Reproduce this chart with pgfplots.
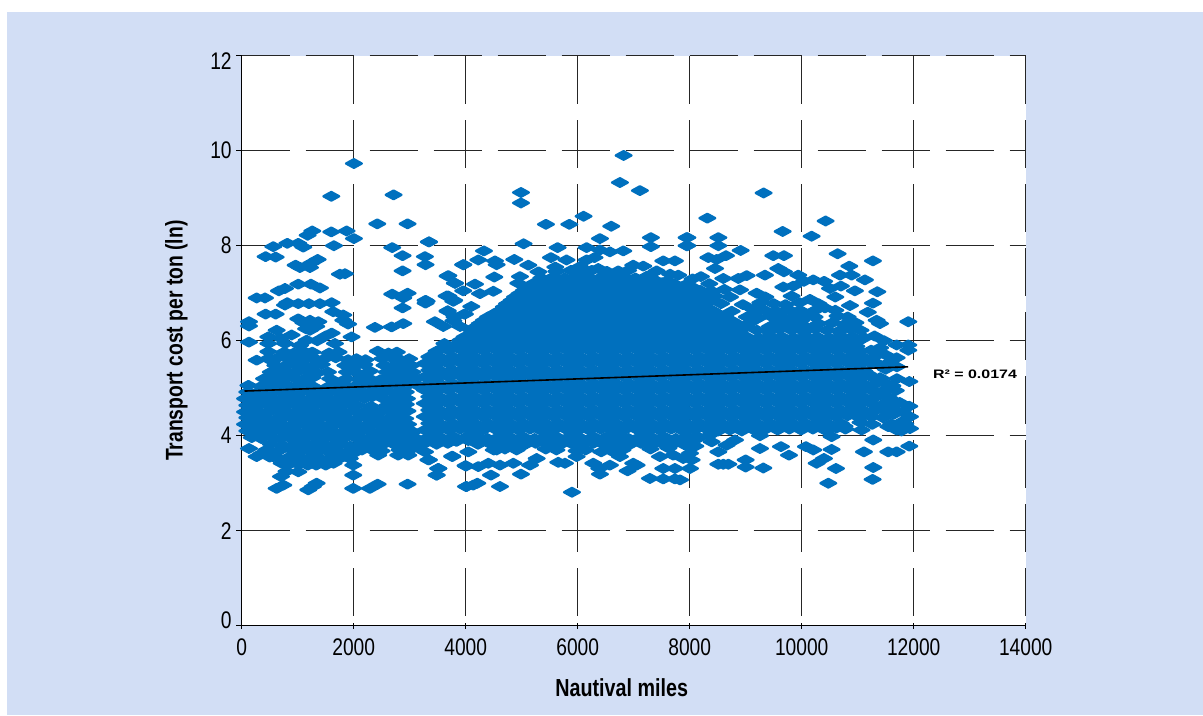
\documentclass[border=0pt]{standalone}
\usepackage{pgfplots}
\pgfplotsset{compat=1.18}
\usepackage{fontspec}
\setmainfont[FakeStretch=0.8]{Liberation Sans}
\newfontfamily\widefont[FakeStretch=1.3]{Liberation Sans}
\definecolor{panel}{HTML}{D2DEF5}
\definecolor{dotblue}{HTML}{0070BE}
\begin{document}
\begin{tikzpicture}[x=0.75pt,y=0.75pt]
\fill[white] (-241.7,-89.3) rectangle (961.3,625.7);
\fill[panel] (-234.7,-89.3) rectangle (961.3,613.7);
\begin{axis}[
  at={(0,0)},anchor=south west,scale only axis,
  width=588pt,height=427.5pt,
  xmin=0,xmax=14000,ymin=0,ymax=12,
  clip mode=individual,
  xtick={0,2000,...,14000},ytick={0,2,...,12},
  yticklabels={\raisebox{3.75pt}[\height][\depth]{0},2,4,6,8,10,\raisebox{-3.75pt}[\height][\depth]{12}},
  axis x line*=bottom,axis y line*=left,
  axis line style={-,black,line width=0.8pt},
  axis background/.style={fill=white},
  xmajorgrids,ymajorgrids,
  x grid style={draw=black!85,line width=0.8pt,dash pattern=on 36pt off 12pt,dash phase=40.5pt},
  y grid style={draw=black!85,line width=0.9pt,dash pattern=on 36pt off 12pt},
  tick style={black,line width=0.8pt},
  major tick length=4pt,
  tick align=outside,
  x tick style={yshift=1.8pt},
  scaled x ticks=false,
  /pgf/number format/assume math mode=true,
  /pgf/number format/1000 sep={},
  tick label style={font=\fontsize{18}{18}\selectfont},
  xticklabel style={yshift=-2pt},
  yticklabel style={xshift=0pt},
  xlabel={\fontsize{18.5}{18}\selectfont\bfseries Nautival miles},
  ylabel={\fontsize{18.1}{18}\selectfont\bfseries Transport cost per ton (ln)},
  xlabel style={at={(axis description cs:0.5,0)},anchor=center,yshift=-46.5pt,xshift=-9pt},
  ylabel style={at={(axis description cs:0,0.5)},anchor=center,yshift=49pt,xshift=0pt},
]
\addplot[only marks,mark=diamond*,mark size=3.2pt,
  mark options={xscale=2.44,fill=dotblue,draw=dotblue,line width=1.8pt,line join=round}]
coordinates {
(2004,9.73)(1600,9.04)(2712,9.07)(2421,8.46)(2962,8.46)(1260,8.31)(1177,8.22)(1600,8.29)(1873,8.31)(2004,8.15)
(1647,8.00)(3343,8.08)(2688,7.96)(564,7.98)(814,8.05)(1010,8.05)(1100,7.97)(427,7.77)(606,7.76)(2873,7.79)
(3272,7.77)(3283,7.60)(963,7.59)(1356,7.71)(1237,7.63)(1219,7.54)(1040,7.54)(3956,7.60)(2873,7.47)(1754,7.40)
(1844,7.41)(3676,7.36)(3807,7.21)(1010,7.19)(1237,7.19)(1397,7.11)(773,7.10)(665,7.05)(267,6.90)(416,6.90)
(2688,6.98)(2962,7.00)(2885,6.90)(3283,6.85)(3283,6.79)(3658,6.94)(3795,6.85)(3956,7.05)(814,6.80)(773,6.75)
(1010,6.78)(1200,6.78)(1397,6.78)(1606,6.80)(1635,6.61)(1814,6.54)(1814,6.43)(2873,6.69)(3676,6.62)(3986,6.56)
(427,6.56)(606,6.56)(130,6.40)(130,6.31)(1010,6.46)(1219,6.43)(1368,6.40)(1200,6.31)(624,6.22)(2379,6.28)
(2677,6.29)(2885,6.36)(3450,6.40)(1100,6.38)(1150,6.25)(1330,6.30)(1900,6.35)(3600,6.30)(3780,6.42)(3900,6.30)
(130,5.97)(891,6.12)(1219,6.22)(1606,6.16)(1962,6.08)(1500,6.10)(475,6.08)(475,5.94)(773,5.94)(1159,6.01)
(1665,5.94)(475,5.77)(267,5.59)(624,5.63)(1040,5.90)(1350,6.00)(700,6.05)
% upper outliers of the main mass
(6820,9.90)(6754,9.33)(7111,9.16)(4987,9.12)(4987,8.90)(6105,8.62)(5433,8.45)(5850,8.45)(6599,8.41)(6397,8.15)
(7307,8.17)(7307,7.98)(7944,8.17)(7944,8.00)(3345,8.08)(5034,8.04)(5641,7.96)(4326,7.89)(4225,7.70)(4523,7.68)
(4553,7.60)(4868,7.71)(5522,7.75)(5118,7.59)(6159,7.96)(6397,7.91)(6575,7.87)(6814,7.89)(3958,7.60)(7528,7.68)
(7736,7.68)(4511,7.34)(3690,7.37)(3809,7.21)(4166,7.19)(4939,7.21)(4969,7.35)(6367,7.52)(6159,7.70)(6040,7.56)
(6992,7.59)(7171,7.57)(6724,7.47)(7409,7.47)(7795,7.38)(4493,7.04)(3690,6.94)(3779,6.83)(3303,6.83)(4255,6.99)
(3678,6.63)(3975,6.56)(3800,6.50)(4100,6.72)(5300,7.45)(5600,7.55)(5800,7.70)(6300,7.75)(7650,7.40)
(9320,9.11)(8315,8.58)(10427,8.52)(9660,8.30)(10177,8.20)(7958,8.17)(8511,8.17)(7958,8.00)(8511,8.00)(8910,7.90)
(10641,7.83)(8648,7.79)(8333,7.75)(8481,7.71)(9493,7.79)(9683,7.79)(11272,7.68)(10850,7.57)(8452,7.52)(9582,7.52)
(9683,7.45)(9017,7.37)(9344,7.38)(8868,7.31)(8600,7.31)(9939,7.38)(10683,7.38)(10891,7.38)(11129,7.28)(11350,7.03)
(11272,6.79)(11903,6.40)(11338,6.43)(11398,6.36)(10862,6.74)(10415,6.69)(10148,6.87)(9672,7.13)(10207,7.28)(10505,7.10)
(8898,7.07)(9196,7.00)(8200,7.35)(8050,7.30)(10400,7.25)(10040,7.25)(9850,7.15)(10700,7.15)(10950,7.05)(11180,6.60)
% right edge
(11695,5.91)(11903,5.91)(11903,5.80)(11695,5.64)(11921,5.14)(11921,4.62)(11933,4.40)(11933,4.15)(11546,4.19)(11695,4.12)
(11921,3.78)(11695,3.66)(11546,3.66)(11278,3.91)(11111,3.66)(11278,3.33)(11266,3.08)(10475,3.00)(10612,3.31)(10397,3.52)
(10267,3.42)(10534,3.71)(10076,3.77)(10207,3.70)(9773,3.59)(9630,3.77)(9255,3.73)(9315,3.32)(8999,3.49)(8999,3.34)
(8600,3.40)(8511,3.40)(8690,3.40)(8511,3.66)(8660,3.80)(8392,3.87)(8809,3.91)(8005,3.31)(8035,3.49)(8005,3.63)
(7827,3.07)(10534,3.98)(11070,4.12)(9255,4.00)(11700,5.20)(11680,4.95)(11750,4.70)(11640,4.45)(11800,4.30)(11500,5.40)
(11560,4.80)(11740,4.25)(11350,5.70)(11500,5.70)(11500,5.10)(11620,5.05)(11700,5.45)(11600,4.60)(11800,4.50)(11850,4.25)
(11600,4.25)(11480,4.60)(11780,4.10)(11580,5.55)(11400,5.85)(11470,6.00)(11300,6.10)(11380,5.50)
% lower outliers
(3761,3.56)(3511,3.31)(3481,3.17)(3333,3.49)(4005,3.36)(4005,2.93)(4207,3.00)(4612,2.93)(4451,3.17)(4987,3.19)
(5897,2.81)(5772,3.42)(5653,3.44)(6397,3.19)(6891,3.26)(6385,3.31)(6575,3.38)(7052,3.38)(7290,3.10)(7528,3.09)
(7736,3.09)(7528,3.31)(7736,3.31)(7885,3.52)(5148,3.38)(4850,3.42)(4612,3.38)(4404,3.42)(4225,3.35)(4047,3.66)
(4553,3.70)(4909,3.70)(5267,3.52)(5981,3.56)(6278,3.42)(6754,3.56)(6992,3.42)(7468,3.56)(7706,3.59)(3273,3.66)
(3343,3.49)(3997,3.37)(4015,2.93)(4134,2.96)(3759,3.57)(3510,3.31)(3480,3.17)(2974,3.59)(2795,3.59)(2438,3.59)
(2962,2.98)(2427,2.98)(2290,2.89)(1992,2.89)(1992,3.17)(1992,3.38)(1189,2.86)(1338,3.00)(1270,2.93)(1010,3.24)
(743,2.96)(624,2.89)(701,3.14)(713,3.42)(800,3.25)(267,3.56)(130,3.73)(350,3.62)(500,3.55)(620,3.55)
% left mass, rows low to high
(760,3.42)(880,3.42)(1010,3.40)(1180,3.38)(1330,3.38)(1500,3.38)(1640,3.42)
(560,3.56)(830,3.54)(950,3.56)(1120,3.50)(1260,3.54)(1420,3.50)(1590,3.54)(1750,3.52)(1930,3.52)
(440,3.70)(660,3.68)(900,3.70)(1030,3.66)(1200,3.68)(1370,3.66)(1530,3.68)(1700,3.66)(1860,3.64)(2010,3.64)(2150,3.70)(2300,3.72)(2500,3.68)(2820,3.70)(3000,3.70)
(520,3.82)(730,3.80)(980,3.84)(1120,3.80)(1290,3.82)(1450,3.80)(1620,3.80)(1780,3.82)(1940,3.78)(2100,3.80)(2250,3.84)(2400,3.80)(2560,3.84)(2720,3.82)(2880,3.80)(3040,3.82)(3160,3.80)
(180,3.96)(350,3.94)(560,3.96)(690,3.94)(850,3.96)(1020,3.94)(1180,3.98)(1350,3.94)(1510,3.96)(1680,3.94)(1850,3.96)(2030,3.96)(2170,3.92)(2330,3.96)(2480,3.94)(2650,3.96)(2810,3.94)(2970,3.96)(3120,3.94)
(100,4.10)(260,4.08)(440,4.08)(610,4.12)(770,4.08)(940,4.10)(1100,4.06)(1270,4.10)(1430,4.08)(1600,4.10)(1770,4.06)(1930,4.10)(2110,4.08)(2270,4.10)(2420,4.06)(2570,4.10)(2730,4.08)(2890,4.10)(3060,4.08)
(60,4.24)(180,4.22)(350,4.24)(520,4.22)(680,4.24)(850,4.20)(1020,4.24)(1190,4.22)(1350,4.24)(1520,4.20)(1680,4.24)(1850,4.22)(2020,4.24)(2190,4.20)(2350,4.24)(2510,4.22)(2660,4.24)(2820,4.22)(2970,4.24)
(100,4.38)(260,4.36)(430,4.38)(600,4.34)(760,4.38)(930,4.36)(1100,4.38)(1270,4.34)(1430,4.38)(1600,4.36)(1770,4.38)(1930,4.34)(2100,4.38)(2270,4.36)(2430,4.38)(2590,4.34)(2750,4.38)(2920,4.36)
(60,4.50)(180,4.50)(350,4.48)(520,4.52)(680,4.50)(850,4.48)(1020,4.52)(1190,4.50)(1350,4.48)(1520,4.52)(1680,4.50)(1850,4.48)(2020,4.52)(2190,4.50)(2350,4.46)(2510,4.52)(2670,4.50)(2830,4.48)(2960,4.52)
(100,4.64)(260,4.62)(430,4.66)(600,4.64)(760,4.62)(930,4.66)(1100,4.64)(1270,4.62)(1430,4.66)(1600,4.64)(1770,4.62)(1930,4.66)(2050,4.64)(2310,4.62)(2600,4.64)(2760,4.62)(2930,4.66)
(60,4.78)(180,4.76)(350,4.78)(520,4.80)(680,4.76)(850,4.78)(1020,4.80)(1190,4.76)(1350,4.78)(1520,4.80)(1680,4.76)(1850,4.78)(2020,4.80)(2190,4.78)(2330,4.82)(2530,4.78)(2670,4.76)(2830,4.80)(2950,4.78)
(100,4.92)(260,4.90)(430,4.92)(600,4.94)(760,4.90)(930,4.92)(1100,4.94)(1270,4.90)(1430,4.92)(1600,4.94)(1770,4.90)(1930,4.92)(2100,4.94)(2270,4.90)(2430,4.92)(2590,4.94)(2750,4.90)(2930,4.92)
(120,5.06)(350,5.04)(520,5.06)(680,5.08)(850,5.04)(1020,5.06)(1190,5.08)(1300,5.02)(1560,5.04)(1720,5.08)(1860,5.06)(2020,5.04)(2190,5.08)(2350,5.06)(2510,5.04)(2670,5.08)(2830,5.06)(2990,5.08)(3140,5.06)
(400,5.20)(600,5.18)(760,5.20)(930,5.22)(1100,5.18)(1260,5.22)(1580,5.20)(1870,5.20)(2100,5.18)(2250,5.22)(2480,5.18)(2640,5.20)(2800,5.22)(2960,5.18)(3120,5.20)
(520,5.34)(680,5.34)(850,5.32)(1020,5.36)(1190,5.34)(1350,5.32)(1540,5.34)(1880,5.34)(2060,5.32)(2290,5.36)(2590,5.34)(2730,5.32)(2900,5.36)(3050,5.34)
(600,5.48)(760,5.46)(930,5.50)(1100,5.48)(1270,5.46)(1430,5.50)(1850,5.48)(2020,5.46)(2190,5.50)(2550,5.48)(2700,5.46)(2870,5.50)(3030,5.48)
(470,5.62)(850,5.60)(1020,5.62)(1190,5.64)(1340,5.60)(1480,5.62)(1680,5.64)(1900,5.60)(2050,5.62)(2210,5.60)(2510,5.62)(2680,5.64)(2830,5.60)(2990,5.62)
(760,5.76)(930,5.74)(1100,5.78)(1260,5.76)(1560,5.74)(1730,5.76)(2430,5.78)(2620,5.74)(2770,5.76)
% central mass, rows low to high
(4500,3.70)(4700,3.72)(5430,3.72)(5620,3.70)(5980,3.68)(6140,3.70)(6420,3.66)(6600,3.68)(6800,3.70)(7300,3.72)(7620,3.74)
(3270,3.84)(3480,3.82)(3680,3.84)(4220,3.82)(4420,3.84)(4620,3.80)(4820,3.84)(5040,3.80)(5250,3.84)(5460,3.82)(5670,3.80)(5880,3.84)(6060,3.80)(6280,3.84)(6490,3.80)(6700,3.84)(6910,3.80)(7130,3.84)(7300,3.80)(7500,3.84)(7700,3.82)(7920,3.80)(8100,3.78)
(3350,3.98)(3560,3.96)(3780,3.98)(3990,3.96)(4180,3.98)(4390,3.94)(4600,3.98)(4810,3.96)(5020,3.98)(5230,3.94)(5440,3.98)(5650,3.96)(5860,3.98)(6070,3.94)(6280,3.98)(6490,3.96)(6700,3.98)(6910,3.94)(7120,3.98)(7330,3.96)(7540,3.98)(7750,3.94)(7960,3.98)(8170,3.96)(8340,4.00)
(3270,4.12)(3480,4.10)(3690,4.12)(3900,4.14)(4100,4.10)(4310,4.12)(4520,4.14)(4730,4.10)(4940,4.12)(5150,4.14)(5360,4.10)(5570,4.12)(5780,4.14)(5990,4.10)(6200,4.12)(6410,4.14)(6620,4.10)(6830,4.12)(7040,4.14)(7250,4.10)(7460,4.12)(7670,4.14)(7880,4.10)(8090,4.12)(8300,4.14)(8510,4.10)(8720,4.12)(8930,4.10)(9150,4.12)(9360,4.14)(9570,4.12)(9780,4.14)(9990,4.12)(10200,4.14)(10410,4.12)(10620,4.16)(10780,4.14)
(3350,4.26)(3560,4.24)(3770,4.26)(3980,4.28)(4190,4.24)(4400,4.26)(4610,4.28)(4820,4.24)(5030,4.26)(5240,4.28)(5450,4.24)(5660,4.26)(5870,4.28)(6080,4.24)(6290,4.26)(6500,4.28)(6710,4.24)(6920,4.26)(7130,4.28)(7340,4.24)(7550,4.26)(7760,4.28)(7970,4.24)(8180,4.26)(8390,4.28)(8600,4.24)(8810,4.26)(9020,4.28)(9230,4.24)(9440,4.26)(9650,4.28)(9860,4.24)(10070,4.26)(10280,4.28)(10490,4.24)(10700,4.26)(11050,4.28)(11260,4.24)
(3270,4.40)(3480,4.38)(3690,4.40)(3900,4.42)(4100,4.38)(4310,4.40)(4520,4.42)(4730,4.38)(4940,4.40)(5150,4.42)(5360,4.38)(5570,4.40)(5780,4.42)(5990,4.38)(6200,4.40)(6410,4.42)(6620,4.38)(6830,4.40)(7040,4.42)(7250,4.38)(7460,4.40)(7670,4.42)(7880,4.38)(8090,4.40)(8300,4.42)(8510,4.38)(8720,4.40)(8930,4.42)(9140,4.38)(9350,4.40)(9560,4.42)(9770,4.38)(9980,4.40)(10190,4.42)(10400,4.38)(10610,4.40)(10820,4.42)(11030,4.38)(11240,4.40)(11450,4.38)
(3350,4.54)(3560,4.52)(3770,4.54)(3980,4.56)(4190,4.52)(4400,4.54)(4610,4.56)(4820,4.52)(5030,4.54)(5240,4.56)(5450,4.52)(5660,4.54)(5870,4.56)(6080,4.52)(6290,4.54)(6500,4.56)(6710,4.52)(6920,4.54)(7130,4.56)(7340,4.52)(7550,4.54)(7760,4.56)(7970,4.52)(8180,4.54)(8390,4.56)(8600,4.52)(8810,4.54)(9020,4.56)(9230,4.52)(9440,4.54)(9650,4.56)(9860,4.52)(10070,4.54)(10280,4.56)(10490,4.52)(10700,4.54)(10910,4.56)(11120,4.52)(11330,4.54)(11500,4.52)
(3270,4.68)(3480,4.66)(3690,4.68)(3900,4.70)(4100,4.66)(4310,4.68)(4520,4.70)(4730,4.66)(4940,4.68)(5150,4.70)(5360,4.66)(5570,4.68)(5780,4.70)(5990,4.66)(6200,4.68)(6410,4.70)(6620,4.66)(6830,4.68)(7040,4.70)(7250,4.66)(7460,4.68)(7670,4.70)(7880,4.66)(8090,4.68)(8300,4.70)(8510,4.66)(8720,4.68)(8930,4.70)(9140,4.66)(9350,4.68)(9560,4.70)(9770,4.66)(9980,4.68)(10190,4.70)(10400,4.66)(10610,4.68)(10820,4.70)(11030,4.66)(11240,4.68)(11450,4.66)
(3350,4.82)(3560,4.80)(3770,4.82)(3980,4.84)(4190,4.80)(4400,4.82)(4610,4.84)(4820,4.80)(5030,4.82)(5240,4.84)(5450,4.80)(5660,4.82)(5870,4.84)(6080,4.80)(6290,4.82)(6500,4.84)(6710,4.80)(6920,4.82)(7130,4.84)(7340,4.80)(7550,4.82)(7760,4.84)(7970,4.80)(8180,4.82)(8390,4.84)(8600,4.80)(8810,4.82)(9020,4.84)(9230,4.80)(9440,4.82)(9650,4.84)(9860,4.80)(10070,4.82)(10280,4.84)(10490,4.80)(10700,4.82)(10910,4.84)(11120,4.80)(11330,4.82)(11540,4.80)
(3270,4.96)(3480,4.94)(3690,4.96)(3900,4.98)(4100,4.94)(4310,4.96)(4520,4.98)(4730,4.94)(4940,4.96)(5150,4.98)(5360,4.94)(5570,4.96)(5780,4.98)(5990,4.94)(6200,4.96)(6410,4.98)(6620,4.94)(6830,4.96)(7040,4.98)(7250,4.94)(7460,4.96)(7670,4.98)(7880,4.94)(8090,4.96)(8300,4.98)(8510,4.94)(8720,4.96)(8930,4.98)(9140,4.94)(9350,4.96)(9560,4.98)(9770,4.94)(9980,4.96)(10190,4.98)(10400,4.94)(10610,4.96)(10820,4.98)(11030,4.94)(11240,4.96)(11450,4.94)
(3350,5.10)(3560,5.08)(3770,5.10)(3980,5.12)(4190,5.08)(4400,5.10)(4610,5.12)(4820,5.08)(5030,5.10)(5240,5.12)(5450,5.08)(5660,5.10)(5870,5.12)(6080,5.08)(6290,5.10)(6500,5.12)(6710,5.08)(6920,5.10)(7130,5.12)(7340,5.08)(7550,5.10)(7760,5.12)(7970,5.08)(8180,5.10)(8390,5.12)(8600,5.08)(8810,5.10)(9020,5.12)(9230,5.08)(9440,5.10)(9650,5.12)(9860,5.08)(10070,5.10)(10280,5.12)(10490,5.08)(10700,5.10)(10910,5.12)(11120,5.08)(11330,5.10)
(3270,5.24)(3480,5.22)(3690,5.24)(3900,5.26)(4100,5.22)(4310,5.24)(4520,5.26)(4730,5.22)(4940,5.24)(5150,5.26)(5360,5.22)(5570,5.24)(5780,5.26)(5990,5.22)(6200,5.24)(6410,5.26)(6620,5.22)(6830,5.24)(7040,5.26)(7250,5.22)(7460,5.24)(7670,5.26)(7880,5.22)(8090,5.24)(8300,5.26)(8510,5.22)(8720,5.24)(8930,5.26)(9140,5.22)(9350,5.24)(9560,5.26)(9770,5.22)(9980,5.24)(10190,5.26)(10400,5.22)(10610,5.24)(10820,5.26)(11030,5.22)(11240,5.24)(11400,5.22)
(3350,5.38)(3560,5.36)(3770,5.38)(3980,5.40)(4190,5.36)(4400,5.38)(4610,5.40)(4820,5.36)(5030,5.38)(5240,5.40)(5450,5.36)(5660,5.38)(5870,5.40)(6080,5.36)(6290,5.38)(6500,5.40)(6710,5.36)(6920,5.38)(7130,5.40)(7340,5.36)(7550,5.38)(7760,5.40)(7970,5.36)(8180,5.38)(8390,5.40)(8600,5.36)(8810,5.38)(9020,5.40)(9230,5.36)(9440,5.38)(9650,5.40)(9860,5.36)(10070,5.38)(10280,5.40)(10490,5.36)(10700,5.38)(10910,5.40)(11120,5.36)
(3270,5.52)(3480,5.50)(3690,5.52)(3900,5.54)(4100,5.50)(4310,5.52)(4520,5.54)(4730,5.50)(4940,5.52)(5150,5.54)(5360,5.50)(5570,5.52)(5780,5.54)(5990,5.50)(6200,5.52)(6410,5.54)(6620,5.50)(6830,5.52)(7040,5.54)(7250,5.50)(7460,5.52)(7670,5.54)(7880,5.50)(8090,5.52)(8300,5.54)(8510,5.50)(8720,5.52)(8930,5.54)(9140,5.50)(9350,5.52)(9560,5.54)(9770,5.50)(9980,5.52)(10190,5.54)(10400,5.50)(10610,5.52)(10820,5.54)(11030,5.50)(11240,5.52)
(3350,5.66)(3560,5.64)(3770,5.66)(3980,5.68)(4190,5.64)(4400,5.66)(4610,5.68)(4820,5.64)(5030,5.66)(5240,5.68)(5450,5.64)(5660,5.66)(5870,5.68)(6080,5.64)(6290,5.66)(6500,5.68)(6710,5.64)(6920,5.66)(7130,5.68)(7340,5.64)(7550,5.66)(7760,5.68)(7970,5.64)(8180,5.66)(8390,5.68)(8600,5.64)(8810,5.66)(9020,5.68)(9230,5.64)(9440,5.66)(9650,5.68)(9860,5.64)(10070,5.66)(10280,5.68)(10490,5.64)(10700,5.66)(10910,5.68)(11120,5.64)
(3480,5.78)(3690,5.80)(3900,5.82)(4100,5.78)(4310,5.80)(4520,5.82)(4730,5.78)(4940,5.80)(5150,5.82)(5360,5.78)(5570,5.80)(5780,5.82)(5990,5.78)(6200,5.80)(6410,5.82)(6620,5.78)(6830,5.80)(7040,5.82)(7250,5.78)(7460,5.80)(7670,5.82)(7880,5.78)(8090,5.80)(8300,5.82)(8510,5.78)(8720,5.80)(8930,5.82)(9140,5.78)(9350,5.80)(9560,5.82)(9770,5.78)(9980,5.80)(10190,5.82)(10400,5.78)(10610,5.80)(10820,5.82)(11030,5.78)(11240,5.80)
(3620,5.94)(3830,5.92)(4040,5.96)(4250,5.94)(4460,5.92)(4670,5.96)(4880,5.94)(5090,5.92)(5300,5.96)(5510,5.94)(5720,5.92)(5930,5.96)(6140,5.94)(6350,5.92)(6560,5.96)(6770,5.94)(6980,5.92)(7190,5.96)(7400,5.94)(7610,5.92)(7820,5.96)(8030,5.94)(8240,5.92)(8450,5.96)(8660,5.94)(8870,5.92)(9080,5.96)(9290,5.94)(9500,5.92)(9710,5.96)(9920,5.94)(10130,5.92)(10340,5.96)(10550,5.94)(10760,5.92)(10970,5.96)
(3980,6.08)(4190,6.06)(4400,6.10)(4610,6.08)(4820,6.06)(5030,6.10)(5240,6.08)(5450,6.06)(5660,6.10)(5870,6.08)(6080,6.06)(6290,6.10)(6500,6.08)(6710,6.06)(6920,6.10)(7130,6.08)(7340,6.06)(7550,6.10)(7760,6.08)(7970,6.06)(8180,6.10)(8390,6.08)(8600,6.06)(8810,6.10)(9020,6.08)(9230,6.06)(9440,6.10)(9650,6.08)(9860,6.06)(10070,6.10)(10280,6.08)(10490,6.06)(10700,6.10)(10910,6.08)(11120,6.06)
(4100,6.22)(4310,6.20)(4520,6.24)(4730,6.22)(4940,6.20)(5150,6.24)(5360,6.22)(5570,6.20)(5780,6.24)(5990,6.22)(6200,6.20)(6410,6.24)(6620,6.22)(6830,6.20)(7040,6.24)(7250,6.22)(7460,6.20)(7670,6.24)(7880,6.22)(8090,6.20)(8300,6.24)(8510,6.22)(8720,6.20)(8930,6.24)(9200,6.22)(9400,6.20)(9600,6.24)(9820,6.22)(10030,6.20)(10240,6.24)(10450,6.22)(10660,6.20)(10870,6.24)(11050,6.22)
(4250,6.36)(4460,6.34)(4670,6.38)(4880,6.36)(5090,6.34)(5300,6.38)(5510,6.36)(5720,6.34)(5930,6.38)(6140,6.36)(6350,6.34)(6560,6.38)(6770,6.36)(6980,6.34)(7190,6.38)(7400,6.36)(7610,6.34)(7820,6.38)(8030,6.36)(8240,6.34)(8450,6.38)(8660,6.36)(8870,6.34)(9080,6.38)(9520,6.34)(9730,6.38)(9940,6.36)(10300,6.36)(10550,6.38)(10760,6.34)(10960,6.38)
(4400,6.50)(4610,6.48)(4820,6.52)(5030,6.50)(5240,6.48)(5450,6.52)(5660,6.50)(5870,6.48)(6080,6.52)(6290,6.50)(6500,6.48)(6710,6.52)(6920,6.50)(7130,6.48)(7340,6.52)(7550,6.50)(7760,6.48)(7970,6.52)(8180,6.50)(8390,6.48)(8600,6.52)(9020,6.50)(9230,6.48)(9440,6.52)(9650,6.50)(9860,6.48)(10040,6.52)(10230,6.50)(10640,6.52)(10820,6.50)
(4620,6.64)(4830,6.62)(5040,6.66)(5250,6.64)(5460,6.62)(5670,6.66)(5880,6.64)(6090,6.62)(6300,6.66)(6510,6.64)(6720,6.62)(6930,6.66)(7140,6.64)(7350,6.62)(7560,6.66)(7770,6.64)(7980,6.62)(8190,6.66)(8400,6.64)(8750,6.62)(9130,6.66)(9340,6.64)(9550,6.62)(9760,6.66)(9970,6.64)(10210,6.62)(10600,6.64)
(4740,6.78)(4950,6.76)(5160,6.80)(5370,6.78)(5580,6.76)(5790,6.80)(6000,6.78)(6210,6.76)(6420,6.80)(6630,6.78)(6840,6.76)(7050,6.80)(7260,6.78)(7470,6.76)(7680,6.80)(7890,6.78)(8100,6.76)(8310,6.80)(8560,6.78)(8950,6.76)(9260,6.80)(9500,6.78)(9710,6.76)(9960,6.80)(10300,6.78)
(4880,6.92)(5090,6.90)(5300,6.94)(5510,6.92)(5720,6.90)(5930,6.94)(6140,6.92)(6350,6.90)(6560,6.94)(6770,6.92)(6980,6.90)(7190,6.94)(7400,6.92)(7610,6.90)(7820,6.94)(8030,6.92)(8240,6.90)(8450,6.94)(8720,6.92)(9350,6.92)(9820,6.94)(10600,6.92)
(5040,7.06)(5250,7.04)(5460,7.08)(5670,7.06)(5880,7.04)(6090,7.08)(6300,7.06)(6510,7.04)(6720,7.08)(6930,7.06)(7140,7.04)(7350,7.08)(7560,7.06)(7770,7.04)(7980,7.08)(8190,7.06)(8400,7.04)(8620,7.08)
(5200,7.20)(5410,7.18)(5620,7.22)(5830,7.20)(6040,7.18)(6250,7.22)(6460,7.20)(6670,7.18)(6880,7.22)(7090,7.20)(7300,7.18)(7510,7.22)(7720,7.20)(7930,7.18)(8350,7.20)
(5350,7.32)(5560,7.34)(5770,7.32)(5980,7.36)(6190,7.34)(6400,7.32)(6610,7.36)(6820,7.34)(7030,7.32)(7240,7.36)
(5620,7.46)(5880,7.48)(6090,7.44)(6250,7.48)(6520,7.46)(6900,7.48)
% more points inside the solid mass
(3415,3.90)(3625,3.90)(3835,3.88)(4045,3.90)(4255,3.90)(4465,3.88)(4675,3.90)(4885,3.90)(5095,3.88)(5305,3.90)(5515,3.90)(5725,3.88)(5935,3.90)(6145,3.90)(6355,3.88)(6565,3.90)(6775,3.90)(6985,3.88)(7195,3.90)(7405,3.90)(7615,3.88)(7825,3.90)(8035,3.90)
(3415,4.19)(3625,4.18)(3835,4.20)(4045,4.19)(4255,4.18)(4465,4.20)(4675,4.19)(4885,4.18)(5095,4.20)(5305,4.19)(5515,4.18)(5725,4.20)(5935,4.19)(6145,4.18)(6355,4.20)(6565,4.19)(6775,4.18)(6985,4.20)(7195,4.19)(7405,4.18)(7615,4.20)(7825,4.19)(8035,4.18)(8245,4.20)(8455,4.19)(8665,4.18)(8875,4.20)(9085,4.19)(9295,4.18)(9505,4.20)(9715,4.19)(9925,4.18)(10135,4.20)(10345,4.19)(10555,4.18)(10765,4.20)
(3415,4.47)(3625,4.46)(3835,4.48)(4045,4.47)(4255,4.46)(4465,4.48)(4675,4.47)(4885,4.46)(5095,4.48)(5305,4.47)(5515,4.46)(5725,4.48)(5935,4.47)(6145,4.46)(6355,4.48)(6565,4.47)(6775,4.46)(6985,4.48)(7195,4.47)(7405,4.46)(7615,4.48)(7825,4.47)(8035,4.46)(8245,4.48)(8455,4.47)(8665,4.46)(8875,4.48)(9085,4.47)(9295,4.46)(9505,4.48)(9715,4.47)(9925,4.46)(10135,4.48)(10345,4.47)(10555,4.46)(10765,4.48)(10975,4.47)(11185,4.46)
(3415,4.75)(3625,4.74)(3835,4.76)(4045,4.75)(4255,4.74)(4465,4.76)(4675,4.75)(4885,4.74)(5095,4.76)(5305,4.75)(5515,4.74)(5725,4.76)(5935,4.75)(6145,4.74)(6355,4.76)(6565,4.75)(6775,4.74)(6985,4.76)(7195,4.75)(7405,4.74)(7615,4.76)(7825,4.75)(8035,4.74)(8245,4.76)(8455,4.75)(8665,4.74)(8875,4.76)(9085,4.75)(9295,4.74)(9505,4.76)(9715,4.75)(9925,4.74)(10135,4.76)(10345,4.75)(10555,4.74)(10765,4.76)(10975,4.75)(11185,4.74)
(3415,5.03)(3625,5.02)(3835,5.04)(4045,5.03)(4255,5.02)(4465,5.04)(4675,5.03)(4885,5.02)(5095,5.04)(5305,5.03)(5515,5.02)(5725,5.04)(5935,5.03)(6145,5.02)(6355,5.04)(6565,5.03)(6775,5.02)(6985,5.04)(7195,5.03)(7405,5.02)(7615,5.04)(7825,5.03)(8035,5.02)(8245,5.04)(8455,5.03)(8665,5.02)(8875,5.04)(9085,5.03)(9295,5.02)(9505,5.04)(9715,5.03)(9925,5.02)(10135,5.04)(10345,5.03)(10555,5.02)(10765,5.04)(10975,5.03)(11185,5.02)
(3415,5.31)(3625,5.30)(3835,5.32)(4045,5.31)(4255,5.30)(4465,5.32)(4675,5.31)(4885,5.30)(5095,5.32)(5305,5.31)(5515,5.30)(5725,5.32)(5935,5.31)(6145,5.30)(6355,5.32)(6565,5.31)(6775,5.30)(6985,5.32)(7195,5.31)(7405,5.30)(7615,5.32)(7825,5.31)(8035,5.30)(8245,5.32)(8455,5.31)(8665,5.30)(8875,5.32)(9085,5.31)(9295,5.30)(9505,5.32)(9715,5.31)(9925,5.30)(10135,5.32)(10345,5.31)(10555,5.30)(10765,5.32)(10975,5.31)(11185,5.30)
(3415,5.59)(3625,5.58)(3835,5.60)(4045,5.59)(4255,5.58)(4465,5.60)(4675,5.59)(4885,5.58)(5095,5.60)(5305,5.59)(5515,5.58)(5725,5.60)(5935,5.59)(6145,5.58)(6355,5.60)(6565,5.59)(6775,5.58)(6985,5.60)(7195,5.59)(7405,5.58)(7615,5.60)(7825,5.59)(8035,5.58)(8245,5.60)(8455,5.59)(8665,5.58)(8875,5.60)(9085,5.59)(9295,5.58)(9505,5.60)(9715,5.59)(9925,5.58)(10135,5.60)(10345,5.59)(10555,5.58)(10765,5.60)(10975,5.59)(11185,5.58)
(3625,5.87)(3835,5.86)(4045,5.88)(4255,5.87)(4465,5.86)(4675,5.88)(4885,5.87)(5095,5.86)(5305,5.88)(5515,5.87)(5725,5.86)(5935,5.88)(6145,5.87)(6355,5.86)(6565,5.88)(6775,5.87)(6985,5.86)(7195,5.88)(7405,5.87)(7615,5.86)(7825,5.88)(8035,5.87)(8245,5.86)(8455,5.88)(8665,5.87)(8875,5.86)(9085,5.88)(9295,5.87)(9505,5.86)(9715,5.88)(9925,5.87)(10135,5.86)(10345,5.88)(10555,5.87)(10765,5.86)(10975,5.88)
(3905,6.01)(4115,6.01)(4325,6.00)(4535,6.01)(4745,6.02)(4955,6.01)(5165,6.00)(5375,6.01)(5585,6.02)(5795,6.01)(6005,6.00)(6215,6.01)(6425,6.02)(6635,6.01)(6845,6.00)(7055,6.01)(7265,6.02)(7475,6.01)(7685,6.00)(7895,6.01)(8105,6.02)(8315,6.01)(8525,6.00)(8735,6.01)(8945,6.02)(9155,6.01)(9365,6.00)(9575,6.01)(9785,6.02)(9995,6.01)(10205,6.00)(10415,6.01)(10625,6.02)(10835,6.01)
(4175,6.29)(4385,6.29)(4595,6.28)(4805,6.29)(5015,6.30)(5225,6.29)(5435,6.28)(5645,6.29)(5855,6.30)(6065,6.29)(6275,6.28)(6485,6.29)(6695,6.30)(6905,6.29)(7115,6.28)(7325,6.29)(7535,6.30)(7745,6.29)(7955,6.28)(8165,6.29)(8375,6.30)(8585,6.29)(8795,6.28)(9005,6.29)(9435,6.30)(9665,6.29)(10095,6.28)
(4325,6.43)(4535,6.43)(4745,6.42)(4955,6.43)(5165,6.44)(5375,6.43)(5585,6.42)(5795,6.43)(6005,6.44)(6215,6.43)(6425,6.42)(6635,6.43)(6845,6.44)(7055,6.43)(7265,6.42)(7475,6.43)(7685,6.44)(7895,6.43)(8105,6.42)(8315,6.43)(8525,6.44)(8735,6.43)(9155,6.44)(9575,6.43)(9785,6.42)(9995,6.43)
(4510,6.57)(4720,6.57)(4930,6.56)(5140,6.57)(5350,6.58)(5560,6.57)(5770,6.56)(5980,6.57)(6190,6.58)(6400,6.57)(6610,6.56)(6820,6.57)(7030,6.58)(7240,6.57)(7450,6.56)(7660,6.57)(7870,6.58)(8080,6.57)(8290,6.56)(8500,6.57)(9150,6.58)(9570,6.57)(9900,6.56)
(4680,6.71)(4890,6.71)(5100,6.70)(5310,6.71)(5520,6.72)(5730,6.71)(5940,6.70)(6150,6.71)(6360,6.72)(6570,6.71)(6780,6.70)(6990,6.71)(7200,6.72)(7410,6.71)(7620,6.70)(7830,6.71)(8040,6.72)(8250,6.71)
(4820,6.85)(5030,6.85)(5240,6.84)(5450,6.85)(5660,6.86)(5870,6.85)(6080,6.84)(6290,6.85)(6500,6.86)(6710,6.85)(6920,6.84)(7130,6.85)(7340,6.86)(7550,6.85)(7760,6.84)(7970,6.85)(8180,6.86)(8390,6.85)
(4960,6.99)(5170,6.99)(5380,6.98)(5590,6.99)(5800,7.00)(6010,6.99)(6220,6.98)(6430,6.99)(6640,7.00)(6850,6.99)(7060,6.98)(7270,6.99)(7480,7.00)(7690,6.99)(7900,6.98)(8110,6.99)(8320,7.00)
(5120,7.13)(5330,7.13)(5540,7.12)(5750,7.13)(5960,7.14)(6170,7.13)(6380,7.12)(6590,7.13)(6800,7.14)(7010,7.13)(7220,7.12)(7430,7.13)(7640,7.14)(7850,7.13)(8060,7.12)
(5500,7.27)(5710,7.27)(5920,7.26)(6130,7.27)(6340,7.28)(6550,7.27)(6760,7.26)(6970,7.27)(7180,7.28)(7390,7.27)(7600,7.26)
};
\addplot[black,line width=1.2pt] coordinates {(50,4.94)(11900,5.45)};
\node[anchor=center,inner sep=0pt,font=\widefont\bfseries\fontsize{9.2}{10}\selectfont] at (axis cs:13095,5.30) {R² = 0.0174};
\end{axis}
\end{tikzpicture}
\end{document}
